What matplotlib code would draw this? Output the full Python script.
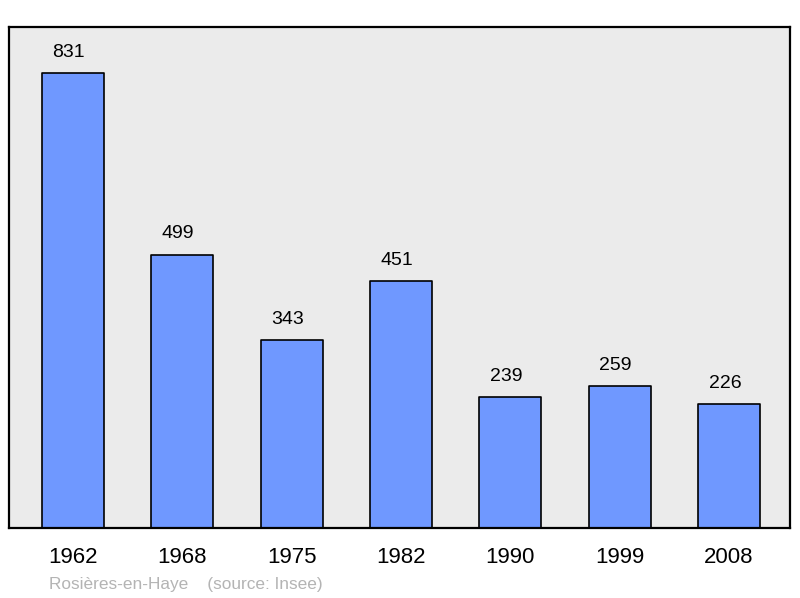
import matplotlib
matplotlib.use("Agg")
import matplotlib.pyplot as plt

plt.rcParams['font.family'] = ['Liberation Sans', 'DejaVu Sans']

annees = ['1962', '1968', '1975', '1982', '1990', '1999', '2008']
population = [831, 499, 343, 451, 239, 259, 226]

fig = plt.figure(figsize=(8, 5.98), dpi=100)
ax = fig.add_axes([0.01125, 0.117, 0.97625, 0.838])
ax.set_facecolor('#ebebeb')

pos = range(len(annees))
barres = ax.bar(pos, population, width=0.567, color='#6f98ff',
                edgecolor='black', linewidth=1.2)
for b in barres:
    b.set_joinstyle('round')

# les étiquettes sont un peu décalées vers la gauche dans l'original
for x, v in zip(pos, population):
    ax.annotate(str(v), (x, v), xytext=(-3, 15), textcoords='offset points',
                ha='center', va='center', fontsize=14, color='black')

ax.set_xlim(-0.585, 6.558)
ax.set_ylim(0, 915)
ax.set_xticks(list(pos))
ax.set_xticklabels(annees, fontsize=16)
ax.tick_params(axis='x', length=0, pad=14)
ax.set_yticks([])
for s in ax.spines.values():
    s.set_linewidth(1.6)
    s.set_color('black')

fig.text(0.061, 0.023, 'Rosières-en-Haye    (source: Insee)', fontsize=12.4,
         color='#b4b4b4', ha='left', va='center')

fig.savefig('out.png', dpi=100)
